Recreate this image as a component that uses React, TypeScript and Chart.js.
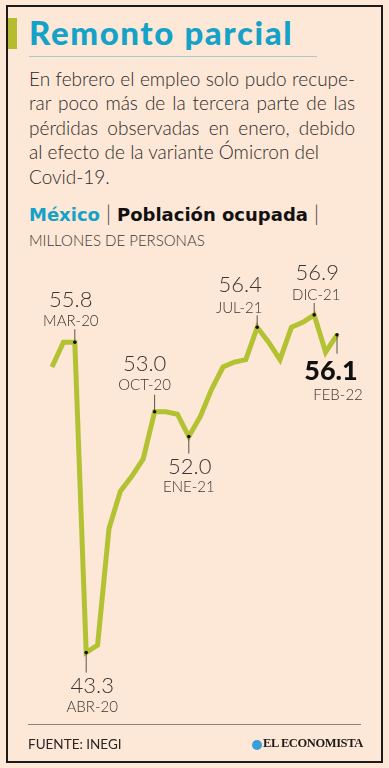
import React, { useEffect, useRef } from "react";
import { Chart, registerables } from "chart.js";

Chart.register(...registerables);

const categories = [
  "ENE-20", "FEB-20", "MAR-20", "ABR-20", "MAY-20", "JUN-20", "JUL-20", "AGO-20", "SEP-20",
  "OCT-20", "NOV-20", "DIC-20", "ENE-21", "FEB-21", "MAR-21", "ABR-21", "MAY-21", "JUN-21",
  "JUL-21", "AGO-21", "SEP-21", "OCT-21", "NOV-21", "DIC-21", "ENE-22", "FEB-22",
];
const ocupados = [
  54.8, 55.8, 55.8, 43.3, 43.6, 48.3, 49.8, 50.4, 51.1,
  53.0, 53.0, 52.9, 52.0, 52.8, 53.9, 54.8, 55.0, 55.1,
  56.4, 55.8, 55.1, 56.4, 56.6, 56.9, 55.4, 56.1,
];
const highlighted = ["MAR-20", "ABR-20", "OCT-20", "ENE-21", "JUL-21", "DIC-21", "FEB-22"];
const highlightedValues = ["55.8", "43.3", "53.0", "52.0", "56.4", "56.9", "56.1"];

const FONT = "Lato, 'Noto Sans', sans-serif";
const HEAD = "'DejaVu Sans', Lato, sans-serif";
const TEXT = "#3b3634";

// placement style for each highlighted label: tick direction/length and text offsets
const placement: Record<string, { tick: number; dx: number; dyV: number; dxL: number; dyL: number; bold?: boolean }> = {
  "MAR-20": { tick: -13, dx: -4, dyV: -42, dxL: -4, dyL: -21 },
  "ABR-20": { tick: 20, dx: 6, dyV: 33, dxL: 6, dyL: 55 },
  "OCT-20": { tick: -17, dx: -10, dyV: -48, dxL: -10, dyL: -27 },
  "ENE-21": { tick: 17, dx: 1, dyV: 30, dxL: 0, dyL: 51 },
  "JUL-21": { tick: -12, dx: -17, dyV: -42, dxL: -18, dyL: -19 },
  "DIC-21": { tick: -12, dx: 3, dyV: -42, dxL: 2, dyL: -20 },
  "FEB-22": { tick: 19, dx: -6, dyV: 37, dxL: 1, dyL: 60, bold: true },
};

const labelPlugin = {
  id: "pointLabels",
  afterDatasetsDraw(chart: any) {
    const ctx = chart.ctx;
    const xs = chart.scales.x;
    const ys = chart.scales.y;
    ctx.save();
    highlighted.forEach((cat, k) => {
      const i = categories.indexOf(cat);
      const x = xs.getPixelForValue(i);
      const y = ys.getPixelForValue(ocupados[i]);
      const p = placement[cat];
      ctx.strokeStyle = "#5a5250";
      ctx.lineWidth = 1;
      ctx.beginPath();
      ctx.moveTo(x, y);
      ctx.lineTo(x, y + p.tick);
      ctx.stroke();
      ctx.fillStyle = "#111";
      ctx.beginPath();
      ctx.arc(x, y, 1.8, 0, Math.PI * 2);
      ctx.fill();
      ctx.textAlign = "center";
      ctx.textBaseline = "middle";
      if (p.bold) {
        ctx.fillStyle = "#111";
        ctx.font = `900 27px ${FONT}`;
      } else {
        ctx.fillStyle = TEXT;
        ctx.font = `300 22px ${FONT}`;
      }
      ctx.fillText(highlightedValues[k], x + p.dx, y + p.dyV);
      ctx.fillStyle = TEXT;
      ctx.font = `300 15px ${FONT}`;
      ctx.fillText(cat, x + p.dxL, y + p.dyL);
    });
    ctx.restore();
  },
};

export default function App() {
  const ref = useRef<HTMLCanvasElement>(null);
  useEffect(() => {
    if (!ref.current) return;
    const chart = new Chart(ref.current, {
      type: "line",
      data: {
        labels: categories,
        datasets: [
          {
            data: ocupados,
            borderColor: "#b3c232",
            borderWidth: 5,
            pointRadius: 0,
            tension: 0,
            fill: false,
            clip: false as any,
            borderJoinStyle: "miter",
          },
        ],
      },
      options: {
        responsive: false,
        animation: false,
        devicePixelRatio: 1,
        layout: { padding: { left: 52, right: 52, top: 300, bottom: 108 } },
        scales: {
          x: { display: false, offset: false },
          y: { display: false, min: 43, max: 57.5 },
        },
        plugins: { legend: { display: false }, tooltip: { enabled: false } },
      },
      plugins: [labelPlugin],
    });
    return () => chart.destroy();
  }, []);

  const abs = (s: React.CSSProperties): React.CSSProperties => ({ position: "absolute", ...s });
  const pipe: React.CSSProperties = { fontWeight: 300, color: "#333", fontFamily: FONT, fontSize: 21, margin: "0 6px" };

  return (
    <div style={{ position: "fixed", left: 0, top: 0, width: 389, height: 768, background: "#fde7d6", overflow: "hidden", fontFamily: FONT, color: TEXT }}>
      <div style={abs({ left: 6, top: 5, width: 373, height: 754, border: "2.5px solid #1e1a19" })} />
      <div style={abs({ left: 8, top: 18, width: 9, height: 31, background: "#b5bd2e" })} />
      <div style={abs({ left: 29, top: 12, fontSize: 33, fontWeight: 900, color: "#14a2c8", whiteSpace: "nowrap", letterSpacing: 1.6 })}>Remonto parcial</div>
      <div style={abs({ left: 29, top: 56, width: 288, height: 1, background: "#a9c9d2" })} />
      <div style={abs({ left: 29, top: 67, width: 326, fontSize: 19, fontWeight: 300, lineHeight: "24.4px", color: "#2e2a29" })}>
        <div style={{ textAlign: "justify", textAlignLast: "justify", whiteSpace: "nowrap" }}>En febrero el empleo solo pudo recupe-</div>
        <div style={{ textAlign: "justify", textAlignLast: "justify", whiteSpace: "nowrap" }}>rar poco más de la tercera parte de las</div>
        <div style={{ textAlign: "justify", textAlignLast: "justify", whiteSpace: "nowrap" }}>pérdidas observadas en enero, debido</div>
        <div style={{ whiteSpace: "nowrap" }}>al efecto de la variante Ómicron del</div>
        <div style={{ whiteSpace: "nowrap" }}>Covid-19.</div>
      </div>
      <div style={abs({ left: 29, top: 200, height: 26, lineHeight: "26px", fontSize: 18, fontWeight: 700, whiteSpace: "nowrap", color: "#111", fontFamily: HEAD })}>
        <span style={{ color: "#14a2c8" }}>México</span>
        <span style={pipe}>|</span>
        <span>Población ocupada</span>
        <span style={pipe}>|</span>
      </div>
      <div style={abs({ left: 29, top: 231, fontSize: 15, fontWeight: 300, whiteSpace: "nowrap", color: "#3b3634" })}>MILLONES DE PERSONAS</div>
      <canvas ref={ref} width={389} height={768} style={abs({ left: 0, top: 0, width: 389, height: 768 })} />
      <div style={abs({ left: 28, top: 724, width: 333, height: 1, background: "#8a8280" })} />
      <div style={abs({ left: 28, top: 736, fontSize: 13.5, fontWeight: 400, whiteSpace: "nowrap", color: "#2a2524" })}>FUENTE: INEGI</div>
      <div style={abs({ left: 252, top: 740, width: 10, height: 10, borderRadius: 5, background: "#3a9fd8" })} />
      <div style={abs({ left: 263, top: 736, fontSize: 12.5, fontWeight: 700, whiteSpace: "nowrap", color: "#1f1a19", fontFamily: "'Liberation Serif', 'DejaVu Serif', serif", letterSpacing: -0.4 })}>EL ECONOMISTA</div>
    </div>
  );
}
